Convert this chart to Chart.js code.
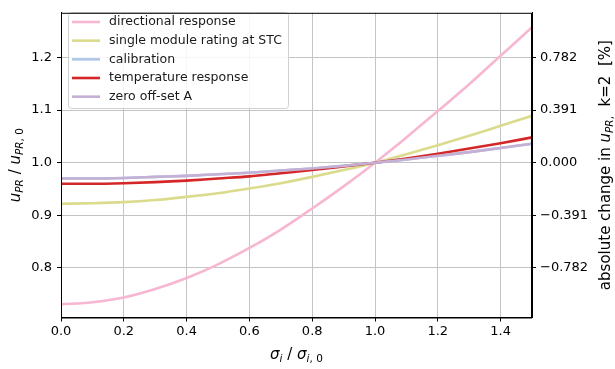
<!DOCTYPE html>
<html>
<head>
<meta charset="utf-8">
<script src="https://cdn.jsdelivr.net/npm/chart.js@4"></script>
<style>
  html, body { margin: 0; padding: 0; background: #fff; }
  #wrap { width: 615px; height: 369px; }
</style>
</head>
<body>
<div id="wrap"><canvas id="chart" width="615" height="369"></canvas></div>
<script>
// sigma_i / sigma_i,0
const sigma = [0.0, 0.1, 0.2, 0.3, 0.4, 0.5, 0.6, 0.7, 0.8, 0.9, 1.0, 1.1, 1.2, 1.3, 1.4, 1.5];

// u_PR / u_PR,0
const directional = [0.731, 0.735, 0.744, 0.760, 0.781, 0.807, 0.838, 0.873, 0.913, 0.955, 1.000, 1.048, 1.098, 1.149, 1.203, 1.257];
const singleModule = [0.922, 0.923, 0.925, 0.929, 0.935, 0.942, 0.951, 0.961, 0.973, 0.986, 1.000, 1.016, 1.033, 1.051, 1.070, 1.089];
const calibration = [0.970, 0.970, 0.971, 0.973, 0.975, 0.978, 0.981, 0.985, 0.989, 0.994, 1.000, 1.006, 1.013, 1.020, 1.028, 1.036];
const temperature = [0.960, 0.960, 0.961, 0.963, 0.966, 0.970, 0.974, 0.980, 0.986, 0.993, 1.000, 1.008, 1.017, 1.027, 1.037, 1.048];
const zeroOffset = [0.970, 0.970, 0.971, 0.973, 0.975, 0.978, 0.981, 0.985, 0.989, 0.994, 1.000, 1.006, 1.013, 1.020, 1.028, 1.036];

const seriesNames = ["directional response", "single module rating at STC", "calibration", "temperature response", "zero off-set A"];
const seriesColors = ["#f7b6d2", "#dbdb8d", "#aec7e8", "#d62728", "#c5b0d5"];

// ticks
const xTicks = [0.0, 0.2, 0.4, 0.6, 0.8, 1.0, 1.2, 1.4];
const yTicks = [0.8, 0.9, 1.0, 1.1, 1.2];
const rightTickLabels = ["\u22120.782", "\u22120.391", "0.000", "0.391", "0.782"];

const FONT = "'DejaVu Sans', sans-serif";

// draw text made of pieces (italic / subscript), centered at x,y
function drawRich(ctx, parts, x, y, rot) {
  ctx.save();
  ctx.translate(x, y);
  ctx.rotate(rot);
  ctx.textBaseline = "middle";
  ctx.textAlign = "left";
  let total = 0;
  parts.forEach(p => {
    ctx.font = p.font;
    total += ctx.measureText(p.t).width;
  });
  let cx = -total / 2;
  parts.forEach(p => {
    ctx.font = p.font;
    ctx.fillStyle = "#000";
    ctx.fillText(p.t, cx, p.dy || 0);
    cx += ctx.measureText(p.t).width;
  });
  ctx.restore();
}

const it = "italic 15px " + FONT;
const rm = "15px " + FONT;
const subIt = "italic 10.5px " + FONT;
const subRm = "10.5px " + FONT;

const labelsPlugin = {
  id: "labels",
  afterDraw(chart) {
    const ctx = chart.ctx;
    const a = chart.chartArea;
    const midY = (a.top + a.bottom) / 2;

    // frame
    ctx.save();
    ctx.strokeStyle = "#000";
    ctx.lineWidth = 1;
    ctx.strokeRect(a.left + 0.5, a.top + 0.5, a.right - a.left - 1, a.bottom - a.top);
    ctx.restore();

    // left y label
    drawRich(ctx, [
      { t: "u", font: it },
      { t: "PR", font: subIt, dy: 4 },
      { t: " / ", font: rm },
      { t: "u", font: it },
      { t: "PR", font: subIt, dy: 4 },
      { t: ", 0", font: subRm, dy: 4 }
    ], 16, midY, -Math.PI / 2);

    // x label
    drawRich(ctx, [
      { t: "\u03c3", font: it },
      { t: "i", font: subIt, dy: 4 },
      { t: " / ", font: rm },
      { t: "\u03c3", font: it },
      { t: "i", font: subIt, dy: 4 },
      { t: ", 0", font: subRm, dy: 4 }
    ], (a.left + a.right) / 2, 355, 0);

    // right y label
    drawRich(ctx, [
      { t: "absolute change in ", font: rm },
      { t: "u", font: it },
      { t: "PR", font: subIt, dy: 4 },
      { t: ",", font: subRm, dy: 4 },
      { t: "  k=2  [%]", font: rm }
    ], 606, midY, -Math.PI / 2);
  }
};

const legendPlugin = {
  id: "boxLegend",
  afterDatasetsDraw(chart) {
    const ctx = chart.ctx;
    const x0 = 68, y0 = 12, w = 220, h = 96;
    ctx.save();
    ctx.fillStyle = "rgba(255,255,255,0.85)";
    ctx.strokeStyle = "#d0d0d0";
    ctx.lineWidth = 1;
    ctx.beginPath();
    ctx.roundRect(x0 + 0.5, y0 + 0.5, w, h, 3);
    ctx.fill();
    ctx.stroke();
    ctx.font = "12.5px " + FONT;
    ctx.textBaseline = "middle";
    seriesNames.forEach((name, i) => {
      const yy = y0 + 10 + i * 18.67;
      ctx.strokeStyle = seriesColors[i];
      ctx.lineWidth = 2.6;
      ctx.beginPath();
      ctx.moveTo(72, yy);
      ctx.lineTo(100, yy);
      ctx.stroke();
      ctx.fillStyle = "#1a1a1a";
      ctx.fillText(name, 109, yy);
    });
    ctx.restore();
  }
};

const allSeries = [directional, singleModule, calibration, temperature, zeroOffset];

const datasets = allSeries.map((vals, i) => ({
  label: seriesNames[i],
  data: sigma.map((s, j) => ({ x: s, y: vals[j] })),
  borderColor: seriesColors[i],
  borderWidth: 2.6,
  pointRadius: 0,
  fill: false,
  cubicInterpolationMode: "monotone",
  order: allSeries.length - i
}));

const ctx = document.getElementById("chart").getContext("2d");

new Chart(ctx, {
  type: "line",
  data: { datasets: datasets },
  options: {
    responsive: false,
    animation: false,
    layout: { padding: { top: 5, right: 0, left: 0, bottom: 0 } },
    plugins: {
      legend: { display: false },
      tooltip: { enabled: false }
    },
    scales: {
      x: {
        type: "linear",
        min: 0,
        max: 1.5,
        afterBuildTicks: s => { s.ticks = xTicks.map(v => ({ value: v })); },
        afterFit: s => { s.height = 51.5; },
        grid: { color: "#c4c4c4", lineWidth: 1, tickColor: "#000", tickLength: 4 },
        border: { color: "#000", width: 1 },
        ticks: {
          color: "#000",
          font: { family: FONT, size: 13 },
          padding: 2,
          maxRotation: 0,
          callback: v => v.toFixed(1)
        }
      },
      y: {
        position: "left",
        min: 0.706,
        max: 1.2846,
        afterBuildTicks: s => { s.ticks = yTicks.map(v => ({ value: v })); },
        afterFit: s => { s.width = 61; },
        grid: { color: "#c4c4c4", lineWidth: 1, tickColor: "#000", tickLength: 4 },
        border: { color: "#000", width: 1 },
        ticks: {
          color: "#000",
          font: { family: FONT, size: 13 },
          padding: 5,
          callback: v => v.toFixed(1)
        }
      },
      y2: {
        position: "right",
        min: 0.706,
        max: 1.2846,
        afterBuildTicks: s => { s.ticks = yTicks.map(v => ({ value: v })); },
        afterFit: s => { s.width = 83; },
        grid: { drawOnChartArea: false, tickColor: "#000", tickLength: 4 },
        border: { color: "#000", width: 1 },
        ticks: {
          color: "#000",
          font: { family: FONT, size: 13 },
          padding: 4,
          callback: (v, i) => rightTickLabels[i]
        }
      }
    }
  },
  plugins: [labelsPlugin, legendPlugin]
});
</script>
</body>
</html>
